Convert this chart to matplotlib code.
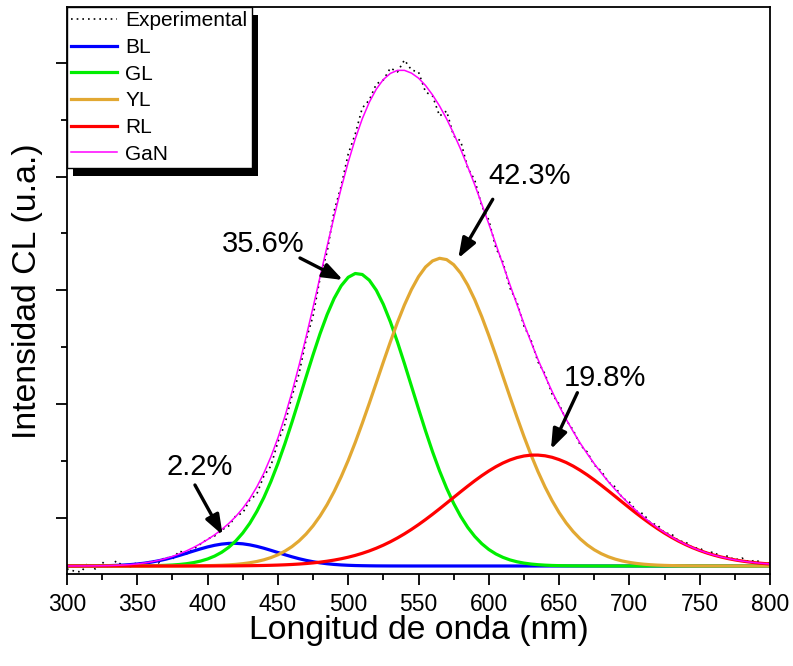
import numpy as np
import matplotlib
matplotlib.use("Agg")
import matplotlib.pyplot as plt
from matplotlib.lines import Line2D
from matplotlib.patches import Rectangle
from matplotlib.transforms import IdentityTransform

plt.rcParams["font.family"] = ["Liberation Sans", "DejaVu Sans"]

# ── Fitted components (5 nm steps, a.u.) ───────────────────────────────────
wl = np.arange(300, 801, 5)
bl = [0.02, 0.03, 0.05, 0.09, 0.15, 0.25, 0.39, 0.61, 0.93, 1.39,
      2.0, 2.82, 3.87, 5.18, 6.74, 8.56, 10.58, 12.75, 14.97, 17.11,
      19.07, 20.70, 21.9, 22.57, 22.67, 22.18, 21.14, 19.64, 17.77, 15.67,
      13.46, 11.26, 9.19, 7.30, 5.65, 4.26, 3.13, 2.24, 1.56, 1.06,
      0.70, 0.45, 0.29, 0.18, 0.10, 0.06, 0.03, 0.02, 0.01] + [0] * 52
gl = [0, 0, 0, 0, 0, 0, 0, 0.01, 0.03, 0.06,
      0.09, 0.15, 0.25, 0.41, 0.64, 0.99, 1.52, 2.28, 3.38, 4.92,
      7.03, 9.90, 13.71, 18.67, 25.0, 32.96, 42.7, 54.53, 68.4, 84.41,
      102.5, 122.4, 143.8, 166.2, 188.9, 211.2, 232.4, 251.4, 267.6, 280.2,
      288.7, 292.5, 291.5, 285.8, 275.7, 261.6, 244.1, 224.1, 202.4, 179.8,
      157.2, 135.1, 114.2, 95.0, 77.8, 62.6, 49.6, 38.6, 29.6, 22.3,
      16.5, 12.05, 8.66, 6.10, 4.24, 2.89, 1.95, 1.29, 0.84, 0.53,
      0.34, 0.21, 0.13, 0.08, 0.04, 0.02] + [0] * 25
yl = [0] * 16 + [
      0.06, 0.10, 0.15, 0.23, 0.35, 0.52, 0.77, 1.12, 1.61, 2.30,
      3.24, 4.50, 6.18, 8.38, 11.2, 14.85, 19.4, 25.05, 31.9, 40.18,
      50.0, 61.39, 74.5, 89.26, 105.6, 123.5, 142.7, 162.7, 183.3, 204.0,
      224.2, 243.5, 261.1, 276.5, 289.3, 299.0, 305.1, 307.7, 306.4, 301.3,
      292.8, 280.9, 266.3, 249.3, 230.5, 210.6, 189.9, 169.3, 149.0, 129.5,
      111.2, 94.3, 79.0, 65.4, 53.4, 43.1, 34.4, 27.1, 21.1, 16.2,
      12.3, 9.21, 6.82, 4.99, 3.61, 2.57, 1.81, 1.26, 0.87, 0.59,
      0.40, 0.26, 0.17, 0.11, 0.07, 0.05, 0.03, 0.02, 0.01] + [0] * 6
rl = [0] * 17 + [
      0.02, 0.03, 0.04, 0.05, 0.07, 0.09, 0.12, 0.16, 0.22, 0.30,
      0.40, 0.53, 0.70, 0.91, 1.18, 1.52, 1.94, 2.46, 3.09, 3.86,
      4.79, 5.91, 7.23, 8.78, 10.59, 12.68, 15.07, 17.79, 20.85, 24.25,
      28.02, 32.13, 36.59, 41.37, 46.43, 51.74, 57.24, 62.88, 68.59, 74.26,
      79.83, 85.22, 90.31, 95.02, 99.26, 102.95, 106.0, 108.38, 110.0, 110.87,
      110.9, 110.2, 108.7, 106.4, 103.5, 99.89, 95.7, 91.09, 86.05, 80.71,
      75.16, 69.50, 63.79, 58.14, 52.60, 47.26, 42.16, 37.33, 32.82, 28.65,
      24.83, 21.37, 18.26, 15.49, 13.04, 10.90, 9.05, 7.46, 6.10, 4.96,
      4.00, 3.21, 2.55, 2.01]
gan = np.array(bl) + np.array(gl) + np.array(yl) + np.array(rl)

# ── Experimental spectrum (5 nm steps, a.u.) ────────────────────────────────
exp_cl = [-3, -5, -6, 3, -3, 4, -2, 5, 0, -1,
          4, 0, 6, 3, 9, 7, 15, 12, 17, 22,
          27, 30, 36, 40, 50, 53, 66, 72, 90, 100,
          124, 142, 170, 192, 226, 250, 288, 314, 355, 380,
          412, 432, 458, 466, 482, 486, 498, 494, 506, 496,
          494, 474, 470, 450, 455, 430, 425, 398, 386, 360,
          346, 318, 304, 278, 264, 240, 226, 204, 192, 172,
          162, 146, 136, 121, 114, 101, 95, 84, 79, 68,
          64, 55, 52, 43, 41, 33, 32, 25, 24, 18,
          18, 13, 14, 9, 10, 6, 8, 4, 6, 2, 3]

labels = ["2.2%", "35.6%", "42.3%", "19.8%"]
text_xy = [(394.6, 99), (439.4, 322), (629.3, 390), (682.6, 188)]
arrow_from = [(391.0, 81), (465.7, 308), (602.8, 366.7), (663.0, 173.3)]
arrow_to = [(410.7, 31), (496.3, 286), (578.3, 307.7), (644.2, 116.7)]

YELLOW = "#E2A832"
GREEN = "#00EE00"
DOTS = (0, (1, 2.4))

fig = plt.figure(figsize=(7.93, 6.66), dpi=100)
ax = fig.add_axes([0.0845, 0.1374, 0.8865, 0.8521])

ax.plot(wl, exp_cl, color="black", linestyle=DOTS, lw=1.2)
ax.plot(wl, bl, color="#0000FF", lw=2.3)
ax.plot(wl, gl, color=GREEN, lw=2.3)
ax.plot(wl, yl, color=YELLOW, lw=2.3)
ax.plot(wl, rl, color="#FF0000", lw=2.3)
ax.plot(wl, gan, color="#FF00FF", lw=1.1)

for lab, txy, a0, a1 in zip(labels, text_xy, arrow_from, arrow_to):
    ax.text(txy[0], txy[1], lab, fontsize=21, ha="center", va="center")
    ax.annotate("", xy=a1, xytext=a0,
                arrowprops=dict(arrowstyle="-|>,head_length=0.6,head_width=0.22",
                                mutation_scale=20, color="black", lw=2.4,
                                shrinkA=0, shrinkB=0))

ax.set_xlim(300, 800)
ax.set_ylim(-8.5, 559)
ax.set_xticks(np.arange(300, 801, 50))
ax.set_xticks(np.arange(325, 800, 50), minor=True)
ax.set_yticks(48.3 + 113.7 * np.arange(5))
ax.set_yticks(105.15 + 113.7 * np.arange(4), minor=True)
ax.set_yticklabels([])
ax.tick_params(which="major", direction="out", length=8, width=1.3,
               labelsize=16.5, pad=5)
ax.tick_params(which="minor", direction="out", length=4, width=1.3)
for s in ax.spines.values():
    s.set_linewidth(1.3)

ax.set_xlabel("Longitud de onda (nm)", fontsize=24.3, va="top")
ax.xaxis.set_label_coords(0.5, -0.072)
ax.set_ylabel("Intensidad CL (u.a.)", fontsize=24.3)
ax.yaxis.set_label_coords(-0.034, 0.5)

handles = [
    Line2D([], [], color="black", linestyle=DOTS, lw=1.2),
    Line2D([], [], color="#0000FF", lw=2.3),
    Line2D([], [], color=GREEN, lw=2.3),
    Line2D([], [], color=YELLOW, lw=2.3),
    Line2D([], [], color="#FF0000", lw=2.3),
    Line2D([], [], color="#FF00FF", lw=1.1),
]
names = ["Experimental", "BL", "GL", "YL", "RL", "GaN"]
leg = ax.legend(handles, names, loc="upper left", bbox_to_anchor=(0.0, 1.0),
                borderaxespad=0, fontsize=15, frameon=True, fancybox=False,
                edgecolor="black", framealpha=1, borderpad=0.2,
                labelspacing=0.37, handlelength=2.2, handletextpad=0.4)
leg.get_frame().set_linewidth(1.0)

# black drop shadow behind the legend
fig.canvas.draw()
bb = leg.get_window_extent()
shadow = Rectangle((bb.x0 + 6, bb.y0 - 8), bb.width, bb.height,
                   transform=IdentityTransform(), facecolor="black",
                   edgecolor="none", zorder=4.5, clip_on=False)
ax.add_artist(shadow)
leg.set_zorder(5)

fig.savefig("out.png", dpi=100)
